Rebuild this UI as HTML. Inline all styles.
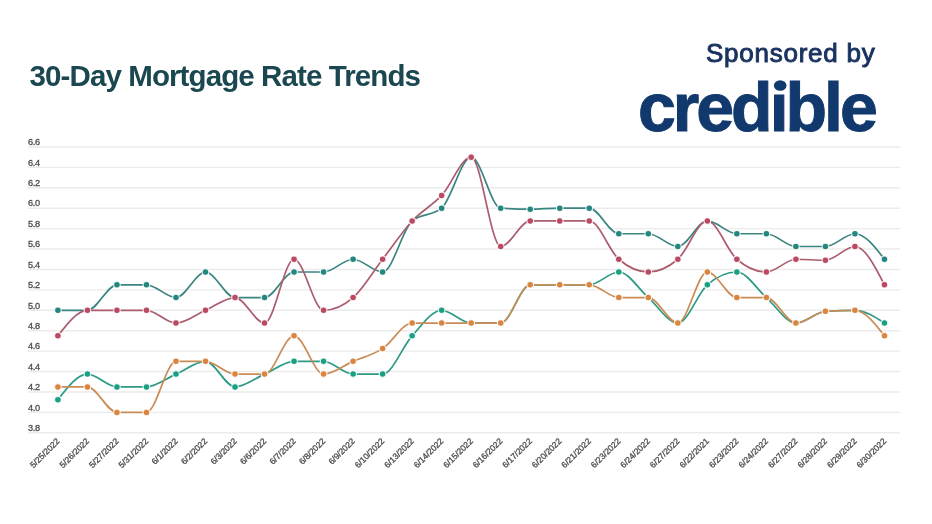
<!DOCTYPE html>
<html><head><meta charset="utf-8"><style>
html,body{margin:0;padding:0;background:#fff;}
body{width:932px;height:524px;overflow:hidden;position:relative;font-family:"Liberation Sans",Arial,sans-serif;}
.title{position:absolute;left:29.6px;top:59px;font-size:29.5px;font-weight:bold;color:#1a4750;white-space:nowrap;letter-spacing:-0.9px;}
.spons{position:absolute;left:706px;top:38px;font-size:26px;color:#19335f;white-space:nowrap;letter-spacing:0.75px;-webkit-text-stroke:0.95px #19335f;}
.logo{position:absolute;left:638px;top:67.5px;font-size:68px;font-weight:bold;color:#11396d;white-space:nowrap;letter-spacing:-3.0px;-webkit-text-stroke:1px #11396d;}
svg{position:absolute;left:0;top:0;}
.yl{font-size:9.2px;fill:#4d4d4d;stroke:#4d4d4d;stroke-width:0.3px;letter-spacing:-0.35px;font-family:"Liberation Sans",Arial,sans-serif;}
.xl{font-size:8.5px;fill:#4d4d4d;stroke:#4d4d4d;stroke-width:0.3px;font-family:"Liberation Sans",Arial,sans-serif;}
</style></head><body>
<div class="title">30-Day Mortgage Rate Trends</div>
<div class="spons">Sponsored by</div>
<div class="logo">credible</div>
<svg class="idot" width="932" height="524" style="position:absolute;left:0;top:0"><rect x="772.3" y="79.3" width="12.6" height="10.6" fill="#fff"/><ellipse cx="780.2" cy="85.5" rx="6.3" ry="5.3" fill="#11396d"/></svg>
<svg width="932" height="524" viewBox="0 0 932 524">
<line x1="28" x2="900" y1="432.82" y2="432.82" stroke="#ebebeb" stroke-width="1.4"/>
<text x="28" y="431.02" class="yl">3.8</text>
<line x1="28" x2="900" y1="412.40" y2="412.40" stroke="#ebebeb" stroke-width="1.4"/>
<text x="28" y="410.60" class="yl">4.0</text>
<line x1="28" x2="900" y1="391.98" y2="391.98" stroke="#ebebeb" stroke-width="1.4"/>
<text x="28" y="390.18" class="yl">4.2</text>
<line x1="28" x2="900" y1="371.56" y2="371.56" stroke="#ebebeb" stroke-width="1.4"/>
<text x="28" y="369.76" class="yl">4.4</text>
<line x1="28" x2="900" y1="351.14" y2="351.14" stroke="#ebebeb" stroke-width="1.4"/>
<text x="28" y="349.34" class="yl">4.6</text>
<line x1="28" x2="900" y1="330.72" y2="330.72" stroke="#ebebeb" stroke-width="1.4"/>
<text x="28" y="328.92" class="yl">4.8</text>
<line x1="28" x2="900" y1="310.30" y2="310.30" stroke="#ebebeb" stroke-width="1.4"/>
<text x="28" y="308.50" class="yl">5.0</text>
<line x1="28" x2="900" y1="289.88" y2="289.88" stroke="#ebebeb" stroke-width="1.4"/>
<text x="28" y="288.08" class="yl">5.2</text>
<line x1="28" x2="900" y1="269.46" y2="269.46" stroke="#ebebeb" stroke-width="1.4"/>
<text x="28" y="267.66" class="yl">5.4</text>
<line x1="28" x2="900" y1="249.04" y2="249.04" stroke="#ebebeb" stroke-width="1.4"/>
<text x="28" y="247.24" class="yl">5.6</text>
<line x1="28" x2="900" y1="228.62" y2="228.62" stroke="#ebebeb" stroke-width="1.4"/>
<text x="28" y="226.82" class="yl">5.8</text>
<line x1="28" x2="900" y1="208.20" y2="208.20" stroke="#ebebeb" stroke-width="1.4"/>
<text x="28" y="206.40" class="yl">6.0</text>
<line x1="28" x2="900" y1="187.78" y2="187.78" stroke="#ebebeb" stroke-width="1.4"/>
<text x="28" y="185.98" class="yl">6.2</text>
<line x1="28" x2="900" y1="167.36" y2="167.36" stroke="#ebebeb" stroke-width="1.4"/>
<text x="28" y="165.56" class="yl">6.4</text>
<line x1="28" x2="900" y1="146.94" y2="146.94" stroke="#ebebeb" stroke-width="1.4"/>
<text x="28" y="145.14" class="yl">6.6</text>
<text transform="translate(60.20,441.70) rotate(-45)" class="xl" text-anchor="end">5/25/2022</text>
<text transform="translate(89.72,441.70) rotate(-45)" class="xl" text-anchor="end">5/26/2022</text>
<text transform="translate(119.24,441.70) rotate(-45)" class="xl" text-anchor="end">5/27/2022</text>
<text transform="translate(148.76,441.70) rotate(-45)" class="xl" text-anchor="end">5/31/2022</text>
<text transform="translate(178.28,441.70) rotate(-45)" class="xl" text-anchor="end">6/1/2022</text>
<text transform="translate(207.80,441.70) rotate(-45)" class="xl" text-anchor="end">6/2/2022</text>
<text transform="translate(237.32,441.70) rotate(-45)" class="xl" text-anchor="end">6/3/2022</text>
<text transform="translate(266.84,441.70) rotate(-45)" class="xl" text-anchor="end">6/6/2022</text>
<text transform="translate(296.36,441.70) rotate(-45)" class="xl" text-anchor="end">6/7/2022</text>
<text transform="translate(325.88,441.70) rotate(-45)" class="xl" text-anchor="end">6/8/2022</text>
<text transform="translate(355.40,441.70) rotate(-45)" class="xl" text-anchor="end">6/9/2022</text>
<text transform="translate(384.92,441.70) rotate(-45)" class="xl" text-anchor="end">6/10/2022</text>
<text transform="translate(414.44,441.70) rotate(-45)" class="xl" text-anchor="end">6/13/2022</text>
<text transform="translate(443.96,441.70) rotate(-45)" class="xl" text-anchor="end">6/14/2022</text>
<text transform="translate(473.48,441.70) rotate(-45)" class="xl" text-anchor="end">6/15/2022</text>
<text transform="translate(503.00,441.70) rotate(-45)" class="xl" text-anchor="end">6/16/2022</text>
<text transform="translate(532.52,441.70) rotate(-45)" class="xl" text-anchor="end">6/17/2022</text>
<text transform="translate(562.04,441.70) rotate(-45)" class="xl" text-anchor="end">6/20/2022</text>
<text transform="translate(591.56,441.70) rotate(-45)" class="xl" text-anchor="end">6/21/2022</text>
<text transform="translate(621.08,441.70) rotate(-45)" class="xl" text-anchor="end">6/23/2022</text>
<text transform="translate(650.60,441.70) rotate(-45)" class="xl" text-anchor="end">6/24/2022</text>
<text transform="translate(680.12,441.70) rotate(-45)" class="xl" text-anchor="end">6/27/2022</text>
<text transform="translate(709.64,441.70) rotate(-45)" class="xl" text-anchor="end">6/22/2021</text>
<text transform="translate(739.16,441.70) rotate(-45)" class="xl" text-anchor="end">6/23/2022</text>
<text transform="translate(768.68,441.70) rotate(-45)" class="xl" text-anchor="end">6/24/2022</text>
<text transform="translate(798.20,441.70) rotate(-45)" class="xl" text-anchor="end">6/27/2022</text>
<text transform="translate(827.72,441.70) rotate(-45)" class="xl" text-anchor="end">6/28/2022</text>
<text transform="translate(857.24,441.70) rotate(-45)" class="xl" text-anchor="end">6/29/2022</text>
<text transform="translate(886.76,441.70) rotate(-45)" class="xl" text-anchor="end">6/30/2022</text>
<path d="M57.90,310.30C67.74,310.30 77.58,310.30 87.42,310.30C97.26,310.30 107.10,284.78 116.94,284.78C126.78,284.78 136.62,284.78 146.46,284.78C156.30,284.78 166.14,297.54 175.98,297.54C185.82,297.54 195.66,272.01 205.50,272.01C215.34,272.01 225.18,297.54 235.02,297.54C244.86,297.54 254.70,297.54 264.54,297.54C274.38,297.54 284.22,272.01 294.06,272.01C303.90,272.01 313.74,272.01 323.58,272.01C333.42,272.01 343.26,259.25 353.10,259.25C362.94,259.25 372.78,272.01 382.62,272.01C392.46,272.01 402.30,229.47 412.14,220.96C421.98,212.45 431.82,216.71 441.66,208.20C451.50,199.69 461.34,157.15 471.18,157.15C481.02,157.15 490.86,207.52 500.70,208.20C510.54,208.88 520.38,209.22 530.22,209.22C540.06,209.22 549.90,208.20 559.74,208.20C569.58,208.20 579.42,208.20 589.26,208.20C599.10,208.20 608.94,233.73 618.78,233.73C628.62,233.73 638.46,233.73 648.30,233.73C658.14,233.73 667.98,246.49 677.82,246.49C687.66,246.49 697.50,220.96 707.34,220.96C717.18,220.96 727.02,233.73 736.86,233.73C746.70,233.73 756.54,233.73 766.38,233.73C776.22,233.73 786.06,246.49 795.90,246.49C805.74,246.49 815.58,246.49 825.42,246.49C835.26,246.49 845.10,233.73 854.94,233.73C864.78,233.73 874.62,246.49 884.46,259.25" fill="none" stroke="#3a8580" stroke-width="1.7"/>
<circle cx="57.90" cy="310.30" r="3.3" fill="#23877f" stroke="#fff" stroke-opacity="0.85" stroke-width="1.1"/>
<circle cx="87.42" cy="310.30" r="3.3" fill="#23877f" stroke="#fff" stroke-opacity="0.85" stroke-width="1.1"/>
<circle cx="116.94" cy="284.78" r="3.3" fill="#23877f" stroke="#fff" stroke-opacity="0.85" stroke-width="1.1"/>
<circle cx="146.46" cy="284.78" r="3.3" fill="#23877f" stroke="#fff" stroke-opacity="0.85" stroke-width="1.1"/>
<circle cx="175.98" cy="297.54" r="3.3" fill="#23877f" stroke="#fff" stroke-opacity="0.85" stroke-width="1.1"/>
<circle cx="205.50" cy="272.01" r="3.3" fill="#23877f" stroke="#fff" stroke-opacity="0.85" stroke-width="1.1"/>
<circle cx="235.02" cy="297.54" r="3.3" fill="#23877f" stroke="#fff" stroke-opacity="0.85" stroke-width="1.1"/>
<circle cx="264.54" cy="297.54" r="3.3" fill="#23877f" stroke="#fff" stroke-opacity="0.85" stroke-width="1.1"/>
<circle cx="294.06" cy="272.01" r="3.3" fill="#23877f" stroke="#fff" stroke-opacity="0.85" stroke-width="1.1"/>
<circle cx="323.58" cy="272.01" r="3.3" fill="#23877f" stroke="#fff" stroke-opacity="0.85" stroke-width="1.1"/>
<circle cx="353.10" cy="259.25" r="3.3" fill="#23877f" stroke="#fff" stroke-opacity="0.85" stroke-width="1.1"/>
<circle cx="382.62" cy="272.01" r="3.3" fill="#23877f" stroke="#fff" stroke-opacity="0.85" stroke-width="1.1"/>
<circle cx="412.14" cy="220.96" r="3.3" fill="#23877f" stroke="#fff" stroke-opacity="0.85" stroke-width="1.1"/>
<circle cx="441.66" cy="208.20" r="3.3" fill="#23877f" stroke="#fff" stroke-opacity="0.85" stroke-width="1.1"/>
<circle cx="471.18" cy="157.15" r="3.3" fill="#23877f" stroke="#fff" stroke-opacity="0.85" stroke-width="1.1"/>
<circle cx="500.70" cy="208.20" r="3.3" fill="#23877f" stroke="#fff" stroke-opacity="0.85" stroke-width="1.1"/>
<circle cx="530.22" cy="209.22" r="3.3" fill="#23877f" stroke="#fff" stroke-opacity="0.85" stroke-width="1.1"/>
<circle cx="559.74" cy="208.20" r="3.3" fill="#23877f" stroke="#fff" stroke-opacity="0.85" stroke-width="1.1"/>
<circle cx="589.26" cy="208.20" r="3.3" fill="#23877f" stroke="#fff" stroke-opacity="0.85" stroke-width="1.1"/>
<circle cx="618.78" cy="233.73" r="3.3" fill="#23877f" stroke="#fff" stroke-opacity="0.85" stroke-width="1.1"/>
<circle cx="648.30" cy="233.73" r="3.3" fill="#23877f" stroke="#fff" stroke-opacity="0.85" stroke-width="1.1"/>
<circle cx="677.82" cy="246.49" r="3.3" fill="#23877f" stroke="#fff" stroke-opacity="0.85" stroke-width="1.1"/>
<circle cx="707.34" cy="220.96" r="3.3" fill="#23877f" stroke="#fff" stroke-opacity="0.85" stroke-width="1.1"/>
<circle cx="736.86" cy="233.73" r="3.3" fill="#23877f" stroke="#fff" stroke-opacity="0.85" stroke-width="1.1"/>
<circle cx="766.38" cy="233.73" r="3.3" fill="#23877f" stroke="#fff" stroke-opacity="0.85" stroke-width="1.1"/>
<circle cx="795.90" cy="246.49" r="3.3" fill="#23877f" stroke="#fff" stroke-opacity="0.85" stroke-width="1.1"/>
<circle cx="825.42" cy="246.49" r="3.3" fill="#23877f" stroke="#fff" stroke-opacity="0.85" stroke-width="1.1"/>
<circle cx="854.94" cy="233.73" r="3.3" fill="#23877f" stroke="#fff" stroke-opacity="0.85" stroke-width="1.1"/>
<circle cx="884.46" cy="259.25" r="3.3" fill="#23877f" stroke="#fff" stroke-opacity="0.85" stroke-width="1.1"/>

<path d="M57.90,335.82C67.74,323.06 77.58,310.30 87.42,310.30C97.26,310.30 107.10,310.30 116.94,310.30C126.78,310.30 136.62,310.30 146.46,310.30C156.30,310.30 166.14,323.06 175.98,323.06C185.82,323.06 195.66,314.55 205.50,310.30C215.34,306.05 225.18,297.54 235.02,297.54C244.86,297.54 254.70,323.06 264.54,323.06C274.38,323.06 284.22,259.25 294.06,259.25C303.90,259.25 313.74,310.30 323.58,310.30C333.42,310.30 343.26,306.05 353.10,297.54C362.94,289.03 372.78,272.01 382.62,259.25C392.46,246.49 402.30,231.60 412.14,220.96C421.98,210.33 431.82,206.07 441.66,195.44C451.50,184.80 461.34,157.15 471.18,157.15C481.02,157.15 490.86,246.49 500.70,246.49C510.54,246.49 520.38,220.96 530.22,220.96C540.06,220.96 549.90,220.96 559.74,220.96C569.58,220.96 579.42,220.96 589.26,220.96C599.10,220.96 608.94,250.74 618.78,259.25C628.62,267.76 638.46,272.01 648.30,272.01C658.14,272.01 667.98,267.76 677.82,259.25C687.66,250.74 697.50,220.96 707.34,220.96C717.18,220.96 727.02,250.74 736.86,259.25C746.70,267.76 756.54,272.01 766.38,272.01C776.22,272.01 786.06,259.25 795.90,259.25C805.74,259.25 815.58,260.27 825.42,260.27C835.26,260.27 845.10,246.49 854.94,246.49C864.78,246.49 874.62,265.63 884.46,284.78" fill="none" stroke="#ab5c6e" stroke-width="1.7"/>
<circle cx="57.90" cy="335.82" r="3.3" fill="#b94a62" stroke="#fff" stroke-opacity="0.85" stroke-width="1.1"/>
<circle cx="87.42" cy="310.30" r="3.3" fill="#b94a62" stroke="#fff" stroke-opacity="0.85" stroke-width="1.1"/>
<circle cx="116.94" cy="310.30" r="3.3" fill="#b94a62" stroke="#fff" stroke-opacity="0.85" stroke-width="1.1"/>
<circle cx="146.46" cy="310.30" r="3.3" fill="#b94a62" stroke="#fff" stroke-opacity="0.85" stroke-width="1.1"/>
<circle cx="175.98" cy="323.06" r="3.3" fill="#b94a62" stroke="#fff" stroke-opacity="0.85" stroke-width="1.1"/>
<circle cx="205.50" cy="310.30" r="3.3" fill="#b94a62" stroke="#fff" stroke-opacity="0.85" stroke-width="1.1"/>
<circle cx="235.02" cy="297.54" r="3.3" fill="#b94a62" stroke="#fff" stroke-opacity="0.85" stroke-width="1.1"/>
<circle cx="264.54" cy="323.06" r="3.3" fill="#b94a62" stroke="#fff" stroke-opacity="0.85" stroke-width="1.1"/>
<circle cx="294.06" cy="259.25" r="3.3" fill="#b94a62" stroke="#fff" stroke-opacity="0.85" stroke-width="1.1"/>
<circle cx="323.58" cy="310.30" r="3.3" fill="#b94a62" stroke="#fff" stroke-opacity="0.85" stroke-width="1.1"/>
<circle cx="353.10" cy="297.54" r="3.3" fill="#b94a62" stroke="#fff" stroke-opacity="0.85" stroke-width="1.1"/>
<circle cx="382.62" cy="259.25" r="3.3" fill="#b94a62" stroke="#fff" stroke-opacity="0.85" stroke-width="1.1"/>
<circle cx="412.14" cy="220.96" r="3.3" fill="#b94a62" stroke="#fff" stroke-opacity="0.85" stroke-width="1.1"/>
<circle cx="441.66" cy="195.44" r="3.3" fill="#b94a62" stroke="#fff" stroke-opacity="0.85" stroke-width="1.1"/>
<circle cx="471.18" cy="157.15" r="3.3" fill="#b94a62" stroke="#fff" stroke-opacity="0.85" stroke-width="1.1"/>
<circle cx="500.70" cy="246.49" r="3.3" fill="#b94a62" stroke="#fff" stroke-opacity="0.85" stroke-width="1.1"/>
<circle cx="530.22" cy="220.96" r="3.3" fill="#b94a62" stroke="#fff" stroke-opacity="0.85" stroke-width="1.1"/>
<circle cx="559.74" cy="220.96" r="3.3" fill="#b94a62" stroke="#fff" stroke-opacity="0.85" stroke-width="1.1"/>
<circle cx="589.26" cy="220.96" r="3.3" fill="#b94a62" stroke="#fff" stroke-opacity="0.85" stroke-width="1.1"/>
<circle cx="618.78" cy="259.25" r="3.3" fill="#b94a62" stroke="#fff" stroke-opacity="0.85" stroke-width="1.1"/>
<circle cx="648.30" cy="272.01" r="3.3" fill="#b94a62" stroke="#fff" stroke-opacity="0.85" stroke-width="1.1"/>
<circle cx="677.82" cy="259.25" r="3.3" fill="#b94a62" stroke="#fff" stroke-opacity="0.85" stroke-width="1.1"/>
<circle cx="707.34" cy="220.96" r="3.3" fill="#b94a62" stroke="#fff" stroke-opacity="0.85" stroke-width="1.1"/>
<circle cx="736.86" cy="259.25" r="3.3" fill="#b94a62" stroke="#fff" stroke-opacity="0.85" stroke-width="1.1"/>
<circle cx="766.38" cy="272.01" r="3.3" fill="#b94a62" stroke="#fff" stroke-opacity="0.85" stroke-width="1.1"/>
<circle cx="795.90" cy="259.25" r="3.3" fill="#b94a62" stroke="#fff" stroke-opacity="0.85" stroke-width="1.1"/>
<circle cx="825.42" cy="260.27" r="3.3" fill="#b94a62" stroke="#fff" stroke-opacity="0.85" stroke-width="1.1"/>
<circle cx="854.94" cy="246.49" r="3.3" fill="#b94a62" stroke="#fff" stroke-opacity="0.85" stroke-width="1.1"/>
<circle cx="884.46" cy="284.78" r="3.3" fill="#b94a62" stroke="#fff" stroke-opacity="0.85" stroke-width="1.1"/>

<path d="M57.90,399.64C67.74,386.88 77.58,374.11 87.42,374.11C97.26,374.11 107.10,386.88 116.94,386.88C126.78,386.88 136.62,386.88 146.46,386.88C156.30,386.88 166.14,378.37 175.98,374.11C185.82,369.86 195.66,361.35 205.50,361.35C215.34,361.35 225.18,386.88 235.02,386.88C244.86,386.88 254.70,378.37 264.54,374.11C274.38,369.86 284.22,361.35 294.06,361.35C303.90,361.35 313.74,361.35 323.58,361.35C333.42,361.35 343.26,374.11 353.10,374.11C362.94,374.11 372.78,374.11 382.62,374.11C392.46,374.11 402.30,346.46 412.14,335.82C421.98,325.19 431.82,310.30 441.66,310.30C451.50,310.30 461.34,323.06 471.18,323.06C481.02,323.06 490.86,323.06 500.70,323.06C510.54,323.06 520.38,284.78 530.22,284.78C540.06,284.78 549.90,284.78 559.74,284.78C569.58,284.78 579.42,284.78 589.26,284.78C599.10,284.78 608.94,272.01 618.78,272.01C628.62,272.01 638.46,289.03 648.30,297.54C658.14,306.05 667.98,323.06 677.82,323.06C687.66,323.06 697.50,293.28 707.34,284.78C717.18,276.27 727.02,272.01 736.86,272.01C746.70,272.01 756.54,289.03 766.38,297.54C776.22,306.05 786.06,323.06 795.90,323.06C805.74,323.06 815.58,312.00 825.42,311.32C835.26,310.64 845.10,310.30 854.94,310.30C864.78,310.30 874.62,316.68 884.46,323.06" fill="none" stroke="#2c9a84" stroke-width="1.7"/>
<circle cx="57.90" cy="399.64" r="3.3" fill="#1a9f84" stroke="#fff" stroke-opacity="0.85" stroke-width="1.1"/>
<circle cx="87.42" cy="374.11" r="3.3" fill="#1a9f84" stroke="#fff" stroke-opacity="0.85" stroke-width="1.1"/>
<circle cx="116.94" cy="386.88" r="3.3" fill="#1a9f84" stroke="#fff" stroke-opacity="0.85" stroke-width="1.1"/>
<circle cx="146.46" cy="386.88" r="3.3" fill="#1a9f84" stroke="#fff" stroke-opacity="0.85" stroke-width="1.1"/>
<circle cx="175.98" cy="374.11" r="3.3" fill="#1a9f84" stroke="#fff" stroke-opacity="0.85" stroke-width="1.1"/>
<circle cx="205.50" cy="361.35" r="3.3" fill="#1a9f84" stroke="#fff" stroke-opacity="0.85" stroke-width="1.1"/>
<circle cx="235.02" cy="386.88" r="3.3" fill="#1a9f84" stroke="#fff" stroke-opacity="0.85" stroke-width="1.1"/>
<circle cx="264.54" cy="374.11" r="3.3" fill="#1a9f84" stroke="#fff" stroke-opacity="0.85" stroke-width="1.1"/>
<circle cx="294.06" cy="361.35" r="3.3" fill="#1a9f84" stroke="#fff" stroke-opacity="0.85" stroke-width="1.1"/>
<circle cx="323.58" cy="361.35" r="3.3" fill="#1a9f84" stroke="#fff" stroke-opacity="0.85" stroke-width="1.1"/>
<circle cx="353.10" cy="374.11" r="3.3" fill="#1a9f84" stroke="#fff" stroke-opacity="0.85" stroke-width="1.1"/>
<circle cx="382.62" cy="374.11" r="3.3" fill="#1a9f84" stroke="#fff" stroke-opacity="0.85" stroke-width="1.1"/>
<circle cx="412.14" cy="335.82" r="3.3" fill="#1a9f84" stroke="#fff" stroke-opacity="0.85" stroke-width="1.1"/>
<circle cx="441.66" cy="310.30" r="3.3" fill="#1a9f84" stroke="#fff" stroke-opacity="0.85" stroke-width="1.1"/>
<circle cx="471.18" cy="323.06" r="3.3" fill="#1a9f84" stroke="#fff" stroke-opacity="0.85" stroke-width="1.1"/>
<circle cx="500.70" cy="323.06" r="3.3" fill="#1a9f84" stroke="#fff" stroke-opacity="0.85" stroke-width="1.1"/>
<circle cx="530.22" cy="284.78" r="3.3" fill="#1a9f84" stroke="#fff" stroke-opacity="0.85" stroke-width="1.1"/>
<circle cx="559.74" cy="284.78" r="3.3" fill="#1a9f84" stroke="#fff" stroke-opacity="0.85" stroke-width="1.1"/>
<circle cx="589.26" cy="284.78" r="3.3" fill="#1a9f84" stroke="#fff" stroke-opacity="0.85" stroke-width="1.1"/>
<circle cx="618.78" cy="272.01" r="3.3" fill="#1a9f84" stroke="#fff" stroke-opacity="0.85" stroke-width="1.1"/>
<circle cx="648.30" cy="297.54" r="3.3" fill="#1a9f84" stroke="#fff" stroke-opacity="0.85" stroke-width="1.1"/>
<circle cx="677.82" cy="323.06" r="3.3" fill="#1a9f84" stroke="#fff" stroke-opacity="0.85" stroke-width="1.1"/>
<circle cx="707.34" cy="284.78" r="3.3" fill="#1a9f84" stroke="#fff" stroke-opacity="0.85" stroke-width="1.1"/>
<circle cx="736.86" cy="272.01" r="3.3" fill="#1a9f84" stroke="#fff" stroke-opacity="0.85" stroke-width="1.1"/>
<circle cx="766.38" cy="297.54" r="3.3" fill="#1a9f84" stroke="#fff" stroke-opacity="0.85" stroke-width="1.1"/>
<circle cx="795.90" cy="323.06" r="3.3" fill="#1a9f84" stroke="#fff" stroke-opacity="0.85" stroke-width="1.1"/>
<circle cx="825.42" cy="311.32" r="3.3" fill="#1a9f84" stroke="#fff" stroke-opacity="0.85" stroke-width="1.1"/>
<circle cx="854.94" cy="310.30" r="3.3" fill="#1a9f84" stroke="#fff" stroke-opacity="0.85" stroke-width="1.1"/>
<circle cx="884.46" cy="323.06" r="3.3" fill="#1a9f84" stroke="#fff" stroke-opacity="0.85" stroke-width="1.1"/>

<path d="M57.90,386.88C67.74,386.88 77.58,386.88 87.42,386.88C97.26,386.88 107.10,412.40 116.94,412.40C126.78,412.40 136.62,412.40 146.46,412.40C156.30,412.40 166.14,361.35 175.98,361.35C185.82,361.35 195.66,361.35 205.50,361.35C215.34,361.35 225.18,374.11 235.02,374.11C244.86,374.11 254.70,374.11 264.54,374.11C274.38,374.11 284.22,335.82 294.06,335.82C303.90,335.82 313.74,374.11 323.58,374.11C333.42,374.11 343.26,365.60 353.10,361.35C362.94,357.10 372.78,354.97 382.62,348.59C392.46,342.21 402.30,323.06 412.14,323.06C421.98,323.06 431.82,323.06 441.66,323.06C451.50,323.06 461.34,323.06 471.18,323.06C481.02,323.06 490.86,323.06 500.70,323.06C510.54,323.06 520.38,284.78 530.22,284.78C540.06,284.78 549.90,284.78 559.74,284.78C569.58,284.78 579.42,284.78 589.26,284.78C599.10,284.78 608.94,297.54 618.78,297.54C628.62,297.54 638.46,297.54 648.30,297.54C658.14,297.54 667.98,323.06 677.82,323.06C687.66,323.06 697.50,272.01 707.34,272.01C717.18,272.01 727.02,297.54 736.86,297.54C746.70,297.54 756.54,297.54 766.38,297.54C776.22,297.54 786.06,323.06 795.90,323.06C805.74,323.06 815.58,312.00 825.42,311.32C835.26,310.64 845.10,310.30 854.94,310.30C864.78,310.30 874.62,323.06 884.46,335.82" fill="none" stroke="#c98c56" stroke-width="1.7"/>
<circle cx="57.90" cy="386.88" r="3.3" fill="#d98540" stroke="#fff" stroke-opacity="0.85" stroke-width="1.1"/>
<circle cx="87.42" cy="386.88" r="3.3" fill="#d98540" stroke="#fff" stroke-opacity="0.85" stroke-width="1.1"/>
<circle cx="116.94" cy="412.40" r="3.3" fill="#d98540" stroke="#fff" stroke-opacity="0.85" stroke-width="1.1"/>
<circle cx="146.46" cy="412.40" r="3.3" fill="#d98540" stroke="#fff" stroke-opacity="0.85" stroke-width="1.1"/>
<circle cx="175.98" cy="361.35" r="3.3" fill="#d98540" stroke="#fff" stroke-opacity="0.85" stroke-width="1.1"/>
<circle cx="205.50" cy="361.35" r="3.3" fill="#d98540" stroke="#fff" stroke-opacity="0.85" stroke-width="1.1"/>
<circle cx="235.02" cy="374.11" r="3.3" fill="#d98540" stroke="#fff" stroke-opacity="0.85" stroke-width="1.1"/>
<circle cx="264.54" cy="374.11" r="3.3" fill="#d98540" stroke="#fff" stroke-opacity="0.85" stroke-width="1.1"/>
<circle cx="294.06" cy="335.82" r="3.3" fill="#d98540" stroke="#fff" stroke-opacity="0.85" stroke-width="1.1"/>
<circle cx="323.58" cy="374.11" r="3.3" fill="#d98540" stroke="#fff" stroke-opacity="0.85" stroke-width="1.1"/>
<circle cx="353.10" cy="361.35" r="3.3" fill="#d98540" stroke="#fff" stroke-opacity="0.85" stroke-width="1.1"/>
<circle cx="382.62" cy="348.59" r="3.3" fill="#d98540" stroke="#fff" stroke-opacity="0.85" stroke-width="1.1"/>
<circle cx="412.14" cy="323.06" r="3.3" fill="#d98540" stroke="#fff" stroke-opacity="0.85" stroke-width="1.1"/>
<circle cx="441.66" cy="323.06" r="3.3" fill="#d98540" stroke="#fff" stroke-opacity="0.85" stroke-width="1.1"/>
<circle cx="471.18" cy="323.06" r="3.3" fill="#d98540" stroke="#fff" stroke-opacity="0.85" stroke-width="1.1"/>
<circle cx="500.70" cy="323.06" r="3.3" fill="#d98540" stroke="#fff" stroke-opacity="0.85" stroke-width="1.1"/>
<circle cx="530.22" cy="284.78" r="3.3" fill="#d98540" stroke="#fff" stroke-opacity="0.85" stroke-width="1.1"/>
<circle cx="559.74" cy="284.78" r="3.3" fill="#d98540" stroke="#fff" stroke-opacity="0.85" stroke-width="1.1"/>
<circle cx="589.26" cy="284.78" r="3.3" fill="#d98540" stroke="#fff" stroke-opacity="0.85" stroke-width="1.1"/>
<circle cx="618.78" cy="297.54" r="3.3" fill="#d98540" stroke="#fff" stroke-opacity="0.85" stroke-width="1.1"/>
<circle cx="648.30" cy="297.54" r="3.3" fill="#d98540" stroke="#fff" stroke-opacity="0.85" stroke-width="1.1"/>
<circle cx="677.82" cy="323.06" r="3.3" fill="#d98540" stroke="#fff" stroke-opacity="0.85" stroke-width="1.1"/>
<circle cx="707.34" cy="272.01" r="3.3" fill="#d98540" stroke="#fff" stroke-opacity="0.85" stroke-width="1.1"/>
<circle cx="736.86" cy="297.54" r="3.3" fill="#d98540" stroke="#fff" stroke-opacity="0.85" stroke-width="1.1"/>
<circle cx="766.38" cy="297.54" r="3.3" fill="#d98540" stroke="#fff" stroke-opacity="0.85" stroke-width="1.1"/>
<circle cx="795.90" cy="323.06" r="3.3" fill="#d98540" stroke="#fff" stroke-opacity="0.85" stroke-width="1.1"/>
<circle cx="825.42" cy="311.32" r="3.3" fill="#d98540" stroke="#fff" stroke-opacity="0.85" stroke-width="1.1"/>
<circle cx="854.94" cy="310.30" r="3.3" fill="#d98540" stroke="#fff" stroke-opacity="0.85" stroke-width="1.1"/>
<circle cx="884.46" cy="335.82" r="3.3" fill="#d98540" stroke="#fff" stroke-opacity="0.85" stroke-width="1.1"/>

</svg>
</body></html>
